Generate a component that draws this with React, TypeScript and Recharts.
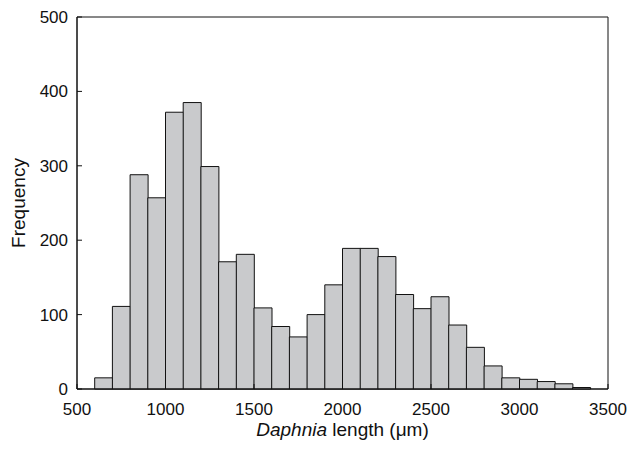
import { Bar, BarChart, ReferenceArea, XAxis, YAxis } from 'recharts'

const BIN_WIDTH = 100
const binStarts = [
  500, 600, 700, 800, 900, 1000, 1100, 1200, 1300, 1400, 1500, 1600, 1700, 1800, 1900,
  2000, 2100, 2200, 2300, 2400, 2500, 2600, 2700, 2800, 2900, 3000, 3100, 3200, 3300, 3400,
]
const counts = [
  0, 15, 111, 288, 257, 372, 385, 299, 171, 181, 109, 84, 70, 100, 140,
  189, 189, 178, 127, 108, 124, 86, 56, 31, 15, 13, 10, 7, 2, 0,
]
const xTicks = [500, 1000, 1500, 2000, 2500, 3000, 3500]
const yTicks = [0, 100, 200, 300, 400, 500]

const FONT = '"Liberation Sans", Arial, Helvetica, sans-serif'
const INK = '#111'
const BAR_FILL = '#c9cacc'

const rows = binStarts.map((start, i) => ({ mid: start + BIN_WIDTH / 2, count: counts[i] }))

function XTitle({ viewBox }: any) {
  const { x, y, width } = viewBox
  return (
    <text x={x + width / 2} y={y + 47} textAnchor="middle" fontSize={19} fill={INK} fontFamily={FONT}>
      <tspan fontStyle="italic">Daphnia</tspan>
      <tspan> length (μm)</tspan>
    </text>
  )
}

function YTitle({ viewBox }: any) {
  const { y, height } = viewBox
  const cy = y + height / 2
  return (
    <text
      x={18}
      y={cy}
      transform={`rotate(-90 18 ${cy})`}
      textAnchor="middle"
      dominantBaseline="central"
      fontSize={19}
      fill={INK}
      fontFamily={FONT}
    >
      Frequency
    </text>
  )
}

export default function App() {
  const tick = { fill: INK, fontSize: 17, fontFamily: FONT }
  return (
    <div style={{ position: 'absolute', left: 0, top: 0, width: 630, height: 450, background: '#fff' }}>
      <BarChart
        width={630}
        height={450}
        data={rows}
        margin={{ top: 17, right: 22, left: 0, bottom: 0 }}
        barCategoryGap={0}
        barGap={0}
      >
        <XAxis
          dataKey="mid"
          type="number"
          domain={[500, 3500]}
          ticks={xTicks}
          allowDataOverflow
          height={61}
          tick={tick}
          tickSize={-5}
          tickMargin={19}
          tickLine={{ stroke: INK }}
          axisLine={{ stroke: INK }}
          label={{ content: <XTitle /> }}
        />
        <YAxis
          domain={[0, 500]}
          ticks={yTicks}
          width={77}
          tick={tick}
          tickSize={-5}
          tickMargin={14}
          tickLine={{ stroke: INK }}
          axisLine={{ stroke: INK }}
          label={{ content: <YTitle /> }}
        />
        <Bar dataKey="count" fill={BAR_FILL} stroke={INK} strokeWidth={1} isAnimationActive={false} />
        <ReferenceArea x1={500} x2={3500} y1={0} y2={500} fill="none" stroke={INK} strokeWidth={1} />
      </BarChart>
    </div>
  )
}
